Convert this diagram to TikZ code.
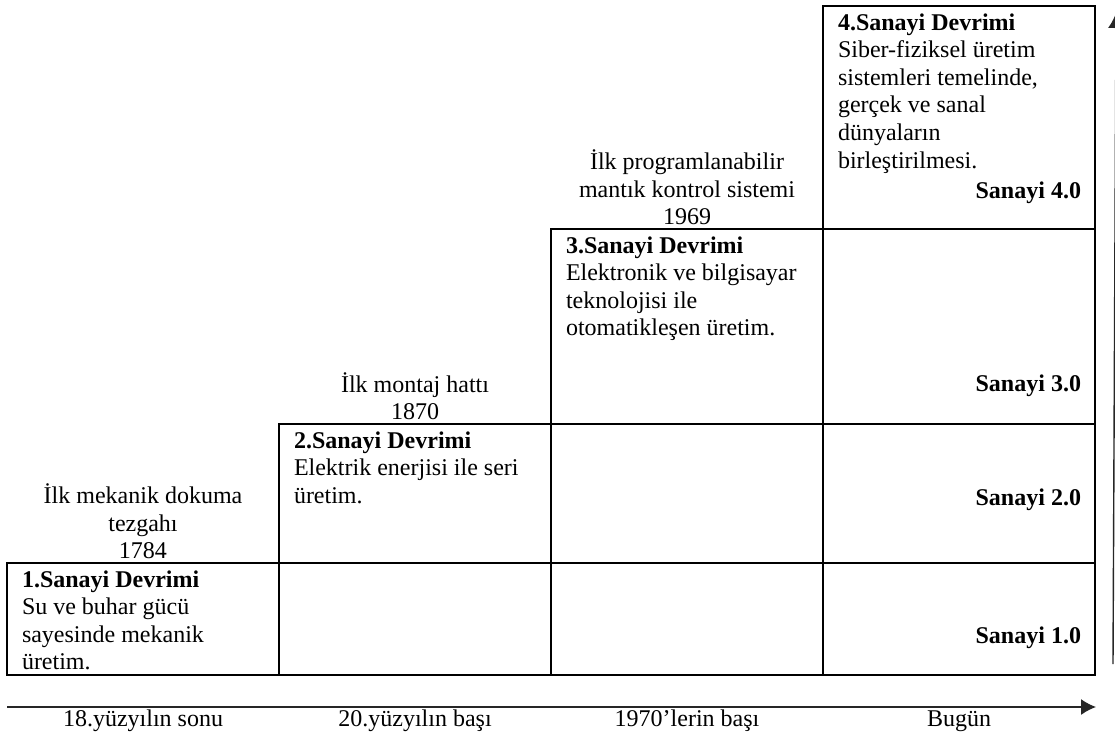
\documentclass[tikz,border=0pt]{standalone}
\usepackage{fontspec}
\setmainfont{Liberation Serif}
\usetikzlibrary{arrows.meta,positioning}

\begin{document}
\begin{tikzpicture}[
  x=0.5pt,y=-0.5pt,
  every node/.style={font=\fontsize{12}{13.8}\selectfont,inner sep=0pt,outer sep=0pt},
  cell/.style={draw,line width=1.35pt,minimum width=136pt,anchor=north west},
  row1/.style={minimum height=56pt},
  row2/.style={minimum height=69.5pt},
  row3/.style={minimum height=97.5pt},
  row4/.style={minimum height=111.5pt},
  body/.style={align=left},
  era/.style={align=center},
  tag/.style={font=\fontsize{12}{13.8}\selectfont\bfseries,anchor=base east},
  tick/.style={anchor=base},
  arr/.style={-{Latex[length=7.5pt,width=8pt]},line width=0.7pt,black!85}
]
\useasboundingbox (0,0) rectangle (1115,735);

% table cells, one column per revolution
\node[cell,row1] (c1r1) at (7,563) {};
\node[cell,row1,right=0pt of c1r1] (c2r1) {};
\node[cell,row1,right=0pt of c2r1] (c3r1) {};
\node[cell,row1,right=0pt of c3r1] (c4r1) {};
\node[cell,row2,above=0pt of c2r1] (c2r2) {};
\node[cell,row2,above=0pt of c3r1] (c3r2) {};
\node[cell,row2,above=0pt of c4r1] (c4r2) {};
\node[cell,row3,above=0pt of c3r2] (c3r3) {};
\node[cell,row3,above=0pt of c4r2] (c4r3) {};
\node[cell,row4,above=0pt of c4r3] (c4r4) {};

% revolutions
\node[body,below right=3.75pt and 7.5pt of c1r1.north west] (rev1)
  {\textbf{1.Sanayi Devrimi}\\Su ve buhar gücü\\sayesinde mekanik\\üretim.};
\node[body,below right=3.75pt and 7.5pt of c2r2.north west] (rev2)
  {\textbf{2.Sanayi Devrimi}\\Elektrik enerjisi ile seri\\üretim.};
\node[body,below right=3.75pt and 7.5pt of c3r3.north west] (rev3)
  {\textbf{3.Sanayi Devrimi}\\Elektronik ve bilgisayar\\teknolojisi ile\\otomatikleşen üretim.};
\node[body,below right=3.75pt and 7.5pt of c4r4.north west] (rev4)
  {\textbf{4.Sanayi Devrimi}\\Siber-fiziksel üretim\\sistemleri temelinde,\\gerçek ve sanal\\dünyaların\\birleştirilmesi.};

% milestones above the steps
\node[era,above=2pt of c1r1] (era1) {İlk mekanik dokuma\\tezgahı\\1784};
\node[era,above=2pt of c2r2] (era2) {İlk montaj hattı\\1870};
\node[era,above=2pt of c3r3] (era3) {İlk programlanabilir\\mantık kontrol sistemi\\1969};

\node[tag] (san4) at (1081,198) {Sanayi 4.0};
\node[tag] (san3) at (1081,391) {Sanayi 3.0};
\node[tag] (san2) at (1081,505) {Sanayi 2.0};
\node[tag] (san1) at (1081,643) {Sanayi 1.0};

% time axis
\coordinate (ax0) at (7,707);
\coordinate (ax1) at (1096,707);
\draw[arr] (ax0) -- (ax1);
\coordinate (up0) at (1113,664);
\coordinate (up1) at (1116,13);
\draw[arr] (up0) -- (up1);

\node[tick] (when1) at (143,726) {18.yüzyılın sonu};
\node[tick] (when2) at (415,726) {20.yüzyılın başı};
\node[tick] (when3) at (687,726) {1970’lerin başı};
\node[tick] (when4) at (959,726) {Bugün};
\end{tikzpicture}
\end{document}
